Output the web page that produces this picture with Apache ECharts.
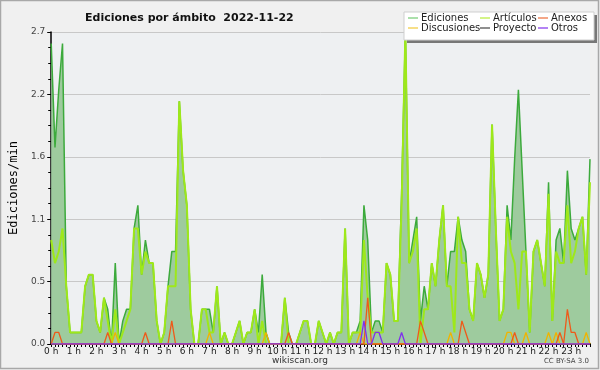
<!DOCTYPE html>
<html><head><meta charset="utf-8">
<script src="https://cdn.jsdelivr.net/npm/echarts@6/dist/echarts.min.js"></script>
<style>html,body{margin:0;padding:0;background:#f0f0f0}#c{width:600px;height:370px}</style>
</head><body><div id="c"></div>
<script>
// tick labels
const hourLabels = ["0 h","1 h","2 h","3 h","4 h","5 h","6 h","7 h","8 h","9 h","10 h","11 h","12 h","13 h","14 h","15 h","16 h","17 h","18 h","19 h","20 h","21 h","22 h","23 h"];
// categories: 10-minute slots
const categories = [];
for (let h = 0; h < 24; h++) for (let m = 0; m < 60; m += 10) categories.push(String(h).padStart(2,'0') + ':' + String(m).padStart(2,'0'));

const ediciones = [
2.6,1.7,2.2,2.6,0.5,0.1,0.1,0.1,0.1,0.5,0.6,0.6,0.2,0.1,0.4,0.3,0.0,0.7,0.0,0.2,0.3,0.3,1.0,1.2,
0.6,0.9,0.7,0.7,0.2,0.0,0.1,0.5,0.8,0.8,2.1,1.5,1.2,0.3,0.0,0.0,0.3,0.3,0.3,0.1,0.5,0.0,0.1,0.0,
0.0,0.1,0.2,0.0,0.1,0.1,0.3,0.1,0.6,0.1,0.0,0.0,0.0,0.0,0.4,0.1,0.0,0.0,0.1,0.2,0.2,0.0,0.0,0.2,
0.1,0.0,0.1,0.0,0.1,0.1,1.0,0.0,0.1,0.1,0.2,1.2,0.9,0.1,0.2,0.2,0.1,0.7,0.6,0.2,0.2,1.3,2.7,0.7,
0.9,1.1,0.2,0.5,0.3,0.7,0.5,0.9,1.2,0.5,0.8,0.8,1.1,0.9,0.8,0.3,0.2,0.7,0.6,0.4,0.6,1.9,1.0,0.2,
0.3,1.2,0.9,1.6,2.2,1.5,0.8,0.1,0.8,0.9,0.7,0.5,1.4,0.2,0.9,1.0,0.7,1.5,1.0,0.9,1.0,1.1,0.6,1.6];
const articulos = [
0.9,0.7,0.8,1.0,0.5,0.1,0.1,0.1,0.1,0.5,0.6,0.6,0.2,0.1,0.4,0.2,0.0,0.3,0.0,0.1,0.2,0.3,1.0,1.0,
0.6,0.8,0.7,0.7,0.2,0.0,0.1,0.5,0.5,0.5,2.1,1.5,1.2,0.3,0.0,0.0,0.3,0.3,0.1,0.1,0.5,0.0,0.1,0.0,
0.0,0.1,0.2,0.0,0.1,0.1,0.3,0.0,0.2,0.0,0.0,0.0,0.0,0.0,0.4,0.0,0.0,0.0,0.1,0.2,0.2,0.0,0.0,0.2,
0.1,0.0,0.1,0.0,0.1,0.1,1.0,0.0,0.1,0.1,0.1,0.9,0.4,0.1,0.1,0.1,0.1,0.7,0.6,0.2,0.2,1.2,2.7,0.7,
0.8,1.0,0.0,0.3,0.3,0.7,0.5,0.9,1.2,0.5,0.5,0.1,1.1,0.7,0.7,0.3,0.2,0.7,0.6,0.4,0.6,1.9,1.0,0.2,
0.3,1.1,0.8,0.7,0.3,0.8,0.8,0.1,0.8,0.9,0.7,0.5,1.3,0.2,0.8,0.7,0.7,1.2,0.7,0.8,1.0,1.1,0.6,1.4];
const anexos = [
0,0.1,0.1,0,0,0,0,0,0,0,0,0,0,0,0,0.1,0,0,0,0,0,0,0,0,
0,0.1,0,0,0,0,0,0,0.2,0,0,0,0,0,0,0,0,0,0,0,0,0,0,0,
0,0,0,0,0,0,0,0,0,0,0,0,0,0,0,0.1,0,0,0,0,0,0,0,0,
0,0,0,0,0,0,0,0,0,0,0,0,0.4,0,0,0,0,0,0,0,0,0,0,0,
0,0,0.2,0.1,0,0,0,0,0,0,0,0,0,0.2,0.1,0,0,0,0,0,0,0,0,0,
0,0,0,0.1,0,0,0,0,0,0,0,0,0,0,0,0.1,0,0.3,0.1,0.1,0,0,0,0];
const discusiones = [
0,0,0,0,0,0,0,0,0,0,0,0,0,0,0,0,0,0.1,0,0,0,0,0,0,
0,0,0,0,0,0,0,0,0,0,0,0,0,0,0,0,0,0,0.1,0,0,0,0,0,
0,0,0,0,0,0,0,0,0,0.1,0,0,0,0,0,0,0,0,0,0,0,0,0,0,
0,0,0,0,0,0,0,0,0,0,0.1,0,0,0,0,0,0,0,0,0,0,0,0,0,
0,0,0,0,0,0,0,0,0,0,0.1,0,0,0,0,0,0,0,0,0,0,0,0,0,
0,0.1,0.1,0,0,0,0.1,0,0,0,0,0,0.1,0,0.1,0,0,0,0,0,0,0,0.1,0];
const proyecto = new Array(144).fill(0);
const otros = [
0,0,0,0,0,0,0,0,0,0,0,0,0,0,0,0,0,0,0,0,0,0,0,0,
0,0,0,0,0,0,0,0,0,0,0,0,0,0,0,0,0,0,0,0,0,0,0,0,
0,0,0,0,0,0,0,0,0,0,0,0,0,0,0,0,0,0,0,0,0,0,0,0,
0,0,0,0,0,0,0,0,0,0,0,0.2,0,0,0.1,0.1,0,0,0,0,0,0.1,0,0,
0,0,0,0,0,0,0,0,0,0,0,0,0,0,0,0,0,0,0,0,0,0,0,0,
0,0,0,0,0,0,0,0,0,0,0,0,0,0,0,0,0,0,0,0,0,0,0,0];

const chart = echarts.init(document.getElementById('c'), null, {renderer:'canvas'});
const lineS = (name, data, color, w, z, extra) => Object.assign({
  name, type:'line', data, symbol:'none', z, animation:false,
  lineStyle:{color, width:w}, itemStyle:{color}
}, extra || {});
const legText = {fontFamily:'DejaVu Sans', fontSize:10, color:'#222', padding:[0,0,0,-2]};
const mkLegend = (left, names, cols) => ({
  left, top:13, orient:'vertical', itemGap:0, itemWidth:10, itemHeight:1.5, icon:'rect',
  padding:0, selectedMode:false, textStyle:legText, z:20,
  data: names.map((n,i)=>({name:n, itemStyle:{color:cols[i]}}))
});
chart.setOption({
  backgroundColor:'#f0f0f0',
  animation:false,
  title:{text:'Ediciones por ámbito  2022-11-22', left:80, top:8,
    textStyle:{fontFamily:'DejaVu Sans', fontWeight:'bold', fontSize:11, color:'#111'}},
  legend:[
    mkLegend(408, ['Ediciones','Discusiones'], ['#8fd68f','#f5d560']),
    mkLegend(480, ['Artículos','Proyecto'], ['#c6f060','#6a6a6a']),
    mkLegend(538, ['Anexos','Otros'], ['#f08a60','#9a5af0'])
  ],
  grid:{left:46, right:10, top:32, bottom:26, show:true, backgroundColor:'#eef0f2', borderWidth:0},
  xAxis:{type:'category', data:categories, boundaryGap:false,
    axisLine:{lineStyle:{color:'#000', width:2}},
    axisTick:{show:true, interval:0, length:3, lineStyle:{color:'#000', width:1}},
    axisLabel:{interval:5, margin:3, fontFamily:'DejaVu Sans', fontSize:9, color:'#222',
      formatter:(v,i)=>hourLabels[i/6]},
    splitLine:{show:false}},
  yAxis:{type:'value', min:0, max:2.7, interval:0.54,
    name:'Ediciones/min', nameLocation:'middle', nameGap:26, nameRotate:90,
    nameTextStyle:{fontFamily:'DejaVu Sans Mono', fontSize:12, color:'#000'},
    axisLine:{show:true, lineStyle:{color:'#000', width:1.5}},
    axisTick:{show:true, length:4, lineStyle:{color:'#000'}},
    minorTick:{show:true, splitNumber:4, length:3, lineStyle:{color:'#000'}},
    axisLabel:{margin:6, fontFamily:'DejaVu Sans', fontSize:9, color:'#444', formatter:v=>v.toFixed(1)},
    splitLine:{show:true, lineStyle:{color:'#c8c8c8', width:1}}},
  graphic:[
    {type:'rect', shape:{x:0.5,y:0.5,width:598,height:368}, style:{fill:null, stroke:'#a8a8a8', lineWidth:1.5}, z:0, silent:true},
    {type:'rect', shape:{x:407,y:15,width:190,height:28}, style:{fill:'#777'}, z:15, silent:true},
    {type:'rect', shape:{x:404,y:12,width:190,height:28}, style:{fill:'#ffffff', stroke:'#cfcfcf', lineWidth:1}, z:16, silent:true},
    {type:'text', left:'center', top:356, style:{text:'wikiscan.org', fontFamily:'DejaVu Sans', fontSize:9, fill:'#333'}, z:5},
    {type:'text', right:11, top:358, style:{text:'CC BY-SA 3.0', fontFamily:'DejaVu Sans', fontSize:7, fill:'#444'}, z:5}
  ],
  series:[
    lineS('Ediciones', ediciones, '#3caa3c', 1.5, 2, {areaStyle:{color:'#9ecb9e', opacity:1}}),
    lineS('Artículos', articulos, '#9ee81a', 2, 3),
    lineS('Proyecto', proyecto, '#555555', 1, 1),
    lineS('Discusiones', discusiones, '#f0b400', 1.3, 4),
    lineS('Anexos', anexos, '#ee5a1a', 1.3, 5),
    lineS('Otros', otros, '#8030ee', 1.3, 6)
  ]
});
</script></body></html>
